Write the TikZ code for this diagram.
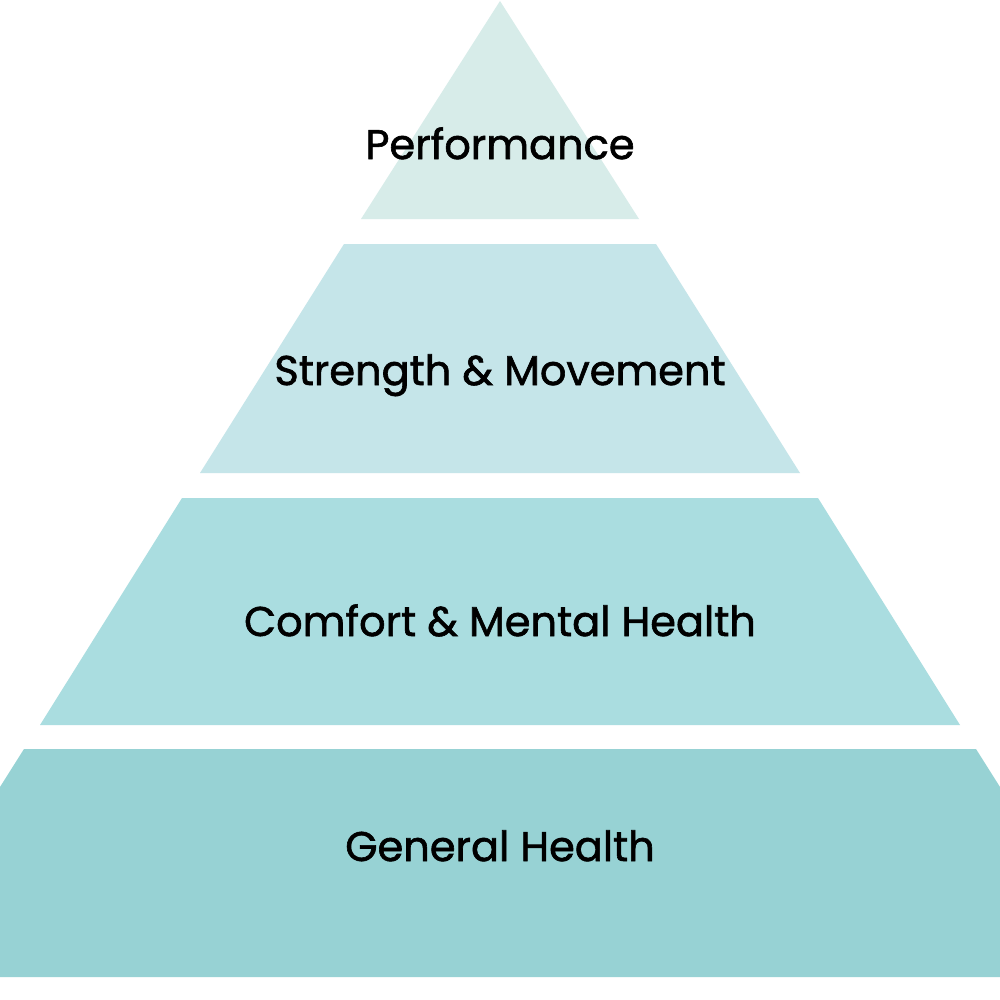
\documentclass[tikz,border=0pt]{standalone}
\usepackage{fontspec}
\setmainfont{Poppins}[FakeBold=1.5,UprightFont=*,BoldFont=*]
\definecolor{c1}{HTML}{D7ECE9}
\definecolor{c2}{HTML}{C5E5E9}
\definecolor{c3}{HTML}{AADDE0}
\definecolor{c4}{HTML}{97D2D4}
\begin{document}
\begin{tikzpicture}[x=0.01cm,y=-0.01cm,
  lbl/.style={font=\fontsize{11.8}{14}\selectfont\bfseries, text=black, inner sep=0pt, anchor=base}]
\useasboundingbox (0,0) rectangle (1000,1000);
\clip (0,0) rectangle (1000,1000);
\fill[white] (0,0) rectangle (1000,1000);
\fill[c1] (500,1) -- (639,219) -- (361,219) -- cycle;
\fill[c2] (344,244) -- (656,244) -- (800,473) -- (200,473) -- cycle;
\fill[c3] (182,498) -- (818,498) -- (960,725) -- (40,725) -- cycle;
\fill[c4] (24,749) -- (976,749) -- (1120,977) -- (-120,977) -- cycle;
\node[lbl] (t1) at (500,159) {Performance};
\node[lbl] (t2) at (500,385) {Strength \& Movement};
\node[lbl] (t3) at (500,636) {Comfort \& Mental Health};
\node[lbl] (t4) at (500,861) {General Health};
\end{tikzpicture}
\end{document}
